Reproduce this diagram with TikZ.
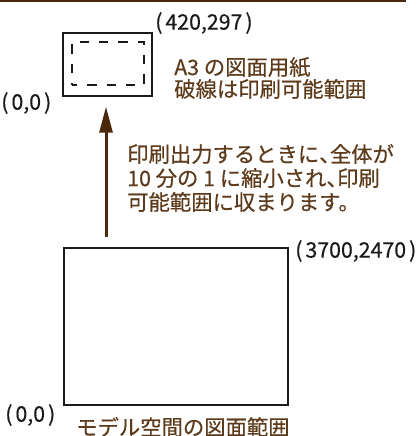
\documentclass[tikz,border=0pt]{standalone}
\usepackage{fontspec}
\setmainfont{Noto Sans CJK JP}[FakeBold=0.4,UprightFeatures={FakeBold=0.4}]
\newfontfamily\halfpunct{Noto Sans CJK JP}[RawFeature=+halt,FakeBold=0.4]
\usetikzlibrary{arrows.meta}
\definecolor{Umber}{HTML}{4A2A0C}
\definecolor{Bark}{HTML}{5C3A1A}
\definecolor{Ink}{HTML}{1A1A1A}
\newcommand{\tou}{{\halfpunct 、}}
\newcommand{\crd}[1]{(\kern.14em#1\kern.14em)}

\begin{document}
\begin{tikzpicture}[x=0.75pt,y=-0.75pt,
  sheet/.style={draw=Ink,line width=1pt,inner sep=0pt},
  coordlbl/.style={font=\fontsize{16}{18}\selectfont,text=Ink,inner sep=0pt,anchor=west},
  note/.style={font=\fontsize{16}{18}\selectfont,text=Bark,inner sep=0pt,anchor=west,align=left}]
  \useasboundingbox (0,0) rectangle (417,436);
  \draw[Umber,line width=1.5pt] (0,1) -- (406,1);
  % A3 sheet with its printable area
  \node[sheet,minimum width=66.75pt,minimum height=47.25pt] (paper) at (107.5,64.5) {};
  \node[sheet,dash pattern=on 7pt off 7.5pt,dash phase=3pt,minimum width=54pt,minimum height=32.25pt] (printable) at (108,63.5) {};
  \node[coordlbl] (paperTR) at (155,23) {\crd{420,297}};
  \node[coordlbl] (paperBL) at (1,103) {\crd{0,0}};
  \node[note,font=\fontsize{16}{16.5}\selectfont] (paperNote) at (174,78) {A3 の図面用紙\\破線は印刷可能範囲};
  % model space limits
  \node[sheet,line width=1.2pt,minimum width=168pt,minimum height=117.75pt] (model) at (176,326.5) {};
  \node[coordlbl] (modelTR) at (295,251) {\crd{3700,2470}};
  \node[coordlbl] (modelBL) at (5,415) {\crd{0,0}};
  \node[note] (modelNote) at (76,427) {モデル空間の図面範囲};
  % scaling on output
  \coordinate (foot) at (106,237);
  \draw[Umber,line width=2.25pt,-{Triangle[width=9.75pt,length=19.5pt]},shorten >=7.5pt]
    (foot) -- (foot |- paper.south);
  \node[note] (scaleNote) at (127,178) {印刷出力するときに\tou 全体が\\10 分の 1 に縮小され\tou 印刷\\可能範囲に収まります。};
\end{tikzpicture}
\end{document}
